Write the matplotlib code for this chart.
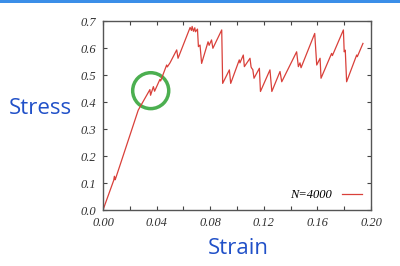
import matplotlib.pyplot as plt
from matplotlib.patches import Ellipse, Rectangle

# strain / stress vertices
strain = [0.000, 0.008, 0.0085, 0.009, 0.0095, 0.0263, 0.0326, 0.035, 0.0355,
          0.0376, 0.0385, 0.0425, 0.043, 0.0475, 0.048, 0.050, 0.055, 0.056,
          0.065, 0.066, 0.0665, 0.0675, 0.0685, 0.069, 0.0705, 0.0712, 0.0724,
          0.0736, 0.0784, 0.0792, 0.081, 0.082, 0.0886, 0.0893, 0.0943, 0.0953,
          0.1017, 0.1022, 0.1047, 0.1055, 0.1097, 0.1105, 0.111, 0.1118, 0.1127,
          0.1167, 0.1175, 0.1246, 0.126, 0.1321, 0.1334, 0.1445, 0.1458, 0.147,
          0.1478, 0.158, 0.1595, 0.162, 0.1627, 0.1706, 0.1712, 0.1794, 0.180,
          0.1808, 0.1818, 0.1893, 0.1898, 0.194]
stress = [0.000, 0.110, 0.125, 0.112, 0.118, 0.370, 0.425, 0.446, 0.425,
          0.457, 0.440, 0.484, 0.478, 0.537, 0.530, 0.545, 0.593, 0.562,
          0.676, 0.665, 0.680, 0.662, 0.675, 0.660, 0.670, 0.605, 0.611,
          0.543, 0.623, 0.610, 0.630, 0.599, 0.667, 0.469, 0.519, 0.469,
          0.556, 0.545, 0.574, 0.531, 0.562, 0.530, 0.525, 0.520, 0.488,
          0.525, 0.439, 0.519, 0.439, 0.513, 0.475, 0.586, 0.531, 0.545,
          0.527, 0.654, 0.537, 0.562, 0.488, 0.580, 0.572, 0.667, 0.586,
          0.592, 0.475, 0.574, 0.568, 0.617]

xticks = [0.00, 0.04, 0.08, 0.12, 0.16, 0.20]
yticks = [0.0, 0.1, 0.2, 0.3, 0.4, 0.5, 0.6, 0.7]

fig = plt.figure(figsize=(4, 2.66), dpi=100)
ax = fig.add_axes([0.2575, 0.2105, 0.67, 0.7105])

ax.plot(strain, stress, color="#d9403a", lw=0.9, label="N=4000")
ax.set_xlim(0, 0.2)
ax.set_ylim(0, 0.7)

tickfont = dict(family="Liberation Serif", style="italic", size=9)
ax.set_xticks(xticks)
ax.set_xticklabels([f"{v:.2f}" for v in xticks], **tickfont)
ax.set_xticks([0.02, 0.06, 0.10, 0.14, 0.18], minor=True)
ax.set_yticks(yticks)
ax.set_yticklabels([f"{v:.1f}" for v in yticks], **tickfont)
ax.tick_params(which="both", direction="in", top=True, right=True,
               length=3, width=0.8, color="#444444", labelcolor="#333333")
ax.tick_params(axis="x", pad=5)
ax.tick_params(axis="y", pad=5)
for s in ax.spines.values():
    s.set_color("#555555")
    s.set_linewidth(1.0)

leg = ax.legend(loc="lower right", frameon=False, markerfirst=False,
                handlelength=1.6, borderaxespad=0.3,
                prop=dict(family="Liberation Serif", style="italic", size=9))

# green highlight circle
ax.add_patch(Ellipse((0.0356, 0.442), 0.0269, 0.133, fill=False,
                     edgecolor="#4caf50", lw=2.5, clip_on=False))

blue = "#2050c8"
fig.text(0.10, 1 - 108 / 266, "Stress", color=blue, family="Open Sans",
         size=16, ha="center", va="center")
fig.text(238 / 400, 1 - 248 / 266, "Strain", color=blue, family="Open Sans",
         size=16, ha="center", va="center")

# blue bar along the top edge
fig.add_artist(Rectangle((0, 1 - 3 / 266), 1, 3 / 266, transform=fig.transFigure,
                         color="#3b8ee8", lw=0))

fig.savefig("out.png", dpi=100)
